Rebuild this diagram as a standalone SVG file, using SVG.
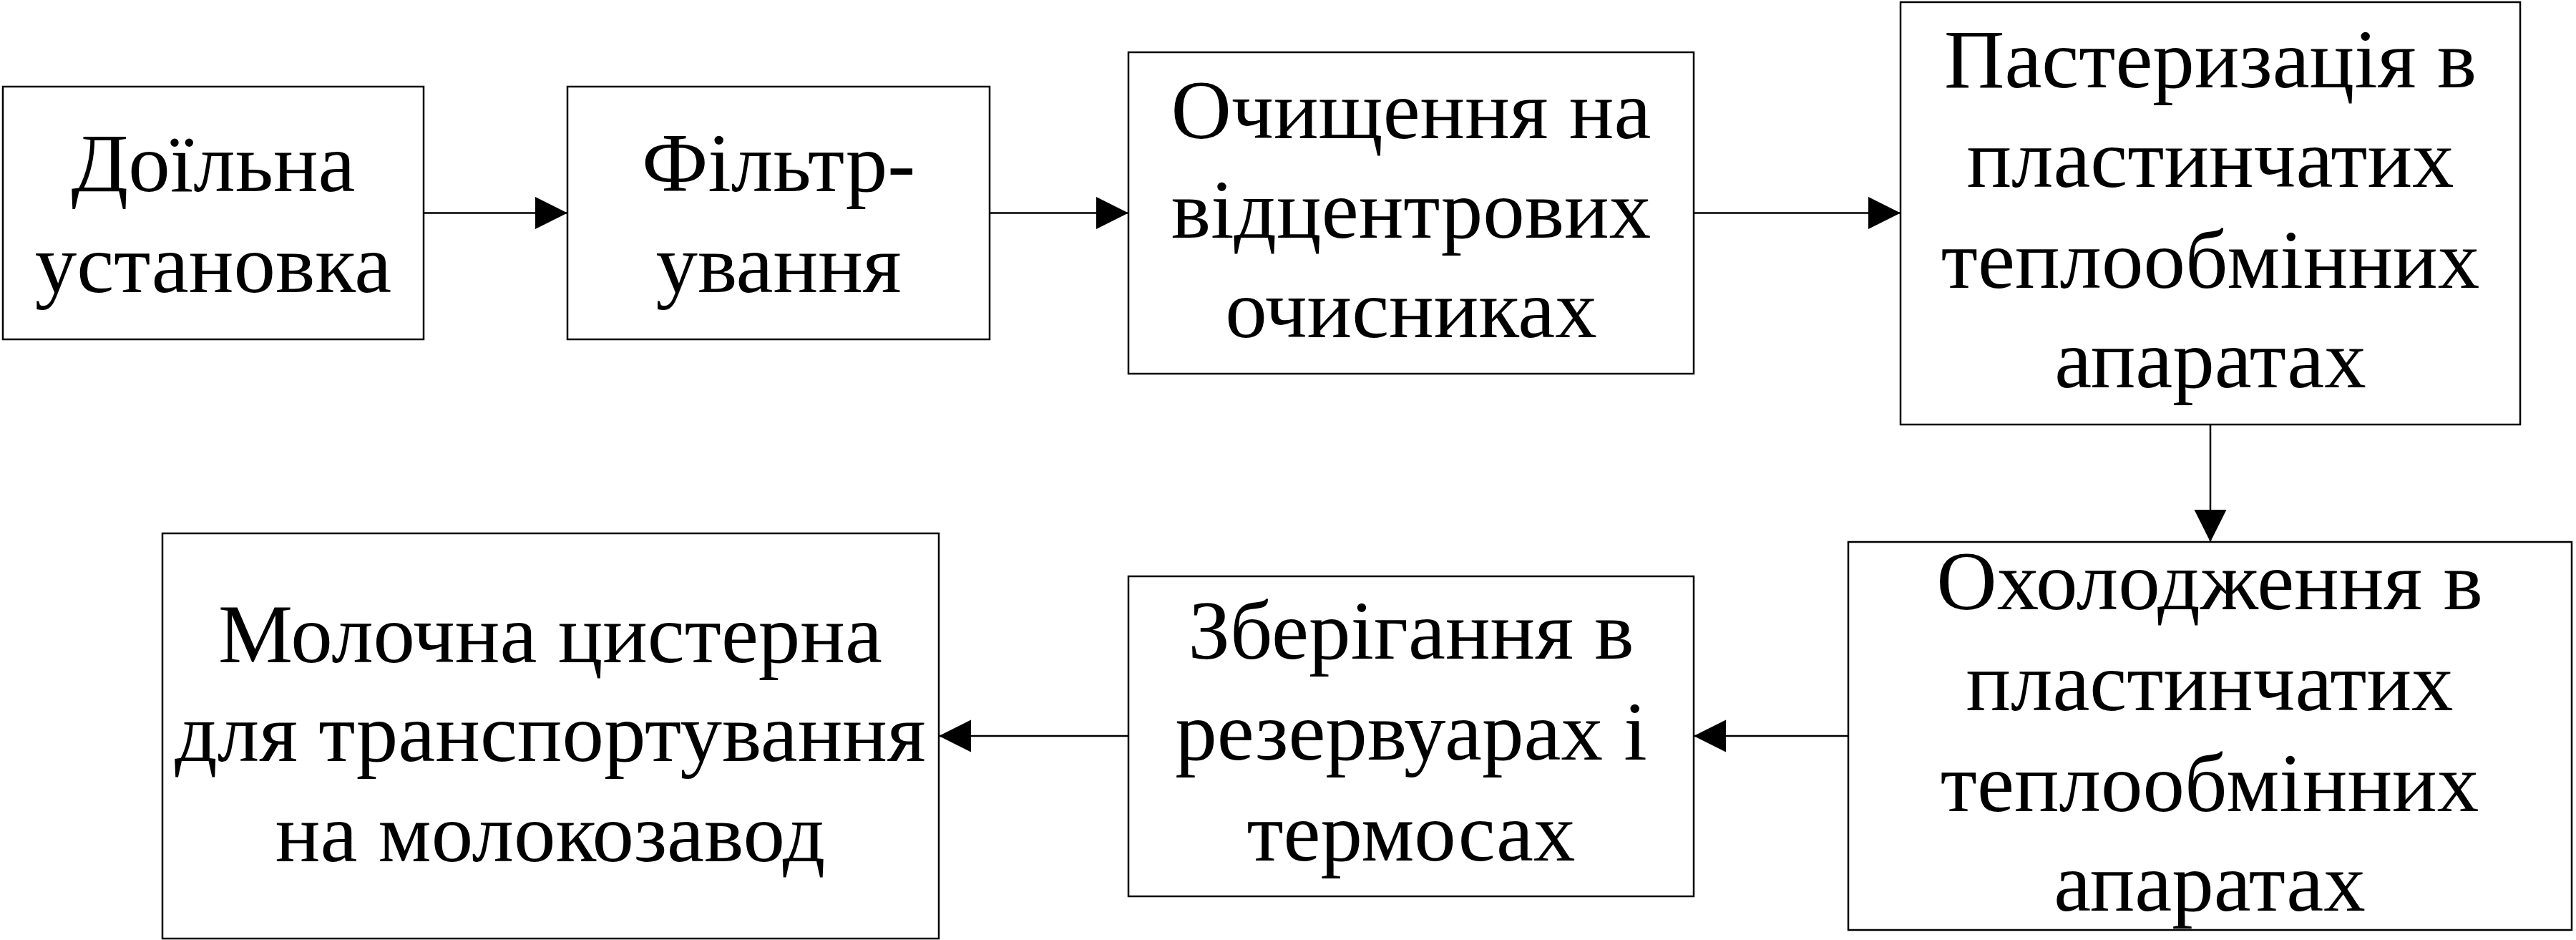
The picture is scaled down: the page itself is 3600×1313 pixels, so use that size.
<svg xmlns="http://www.w3.org/2000/svg" width="3600" height="1313" viewBox="0 0 3600 1313">
<style>
.box{fill:#fff;stroke:#000;stroke-width:2.5}
.lbl{font-family:"Liberation Serif","Times New Roman",serif;font-size:117px;fill:#000;text-anchor:middle}
.con{fill:none;stroke:#000;stroke-width:2.5}
</style>
<defs>
<marker id="arr" markerUnits="userSpaceOnUse" markerWidth="46" markerHeight="46" refX="45" refY="22.5" orient="auto">
<path d="M0,0 L45,22.5 L0,45 Z" fill="#000"/>
</marker>
</defs>
<rect width="3600" height="1313" fill="#fff"/>
<g id="connectors">
<line class="con" x1="593" y1="297.5" x2="793" y2="297.5" marker-end="url(#arr)"/>
<line class="con" x1="1383" y1="297.5" x2="1577" y2="297.5" marker-end="url(#arr)"/>
<line class="con" x1="2367" y1="297.5" x2="2656" y2="297.5" marker-end="url(#arr)"/>
<line class="con" x1="3089" y1="593" x2="3089" y2="757" marker-end="url(#arr)"/>
<line class="con" x1="2583" y1="1028" x2="2367" y2="1028" marker-end="url(#arr)"/>
<line class="con" x1="1577" y1="1028" x2="1312" y2="1028" marker-end="url(#arr)"/>
</g>
<g id="node1">
<rect class="box" x="4" y="121" width="588" height="353"/>
<text class="lbl" x="298" y="267">Доїльна</text>
<text class="lbl" x="298" y="408">установка</text>
</g>
<g id="node2">
<rect class="box" x="793" y="121" width="590" height="353"/>
<text class="lbl" x="1088" y="267">Фільтр-</text>
<text class="lbl" x="1088" y="408">ування</text>
</g>
<g id="node3">
<rect class="box" x="1577" y="73" width="790" height="449"/>
<text class="lbl" x="1972" y="193">Очищення на</text>
<text class="lbl" x="1972" y="332">відцентрових</text>
<text class="lbl" x="1972" y="471">очисниках</text>
</g>
<g id="node4">
<rect class="box" x="2656" y="3" width="866" height="590"/>
<text class="lbl" x="3089" y="122">Пастеризація в</text>
<text class="lbl" x="3089" y="261">пластинчатих</text>
<text class="lbl" x="3089" y="402">теплообмінних</text>
<text class="lbl" x="3089" y="541">апаратах</text>
</g>
<g id="node5">
<rect class="box" x="2583" y="757" width="1011" height="542"/>
<text class="lbl" x="3088" y="851">Охолодження в</text>
<text class="lbl" x="3088" y="992">пластинчатих</text>
<text class="lbl" x="3088" y="1133">теплообмінних</text>
<text class="lbl" x="3088" y="1272">апаратах</text>
</g>
<g id="node6">
<rect class="box" x="1577" y="805" width="790" height="447"/>
<text class="lbl" x="1972" y="920">Зберігання в</text>
<text class="lbl" x="1972" y="1061">резервуарах і</text>
<text class="lbl" x="1972" y="1202">термосах</text>
</g>
<g id="node7">
<rect class="box" x="227" y="745" width="1085" height="566"/>
<text class="lbl" x="769" y="925">Молочна цистерна</text>
<text class="lbl" x="769" y="1063">для транспортування</text>
<text class="lbl" x="769" y="1203">на молокозавод</text>
</g>
</svg>
